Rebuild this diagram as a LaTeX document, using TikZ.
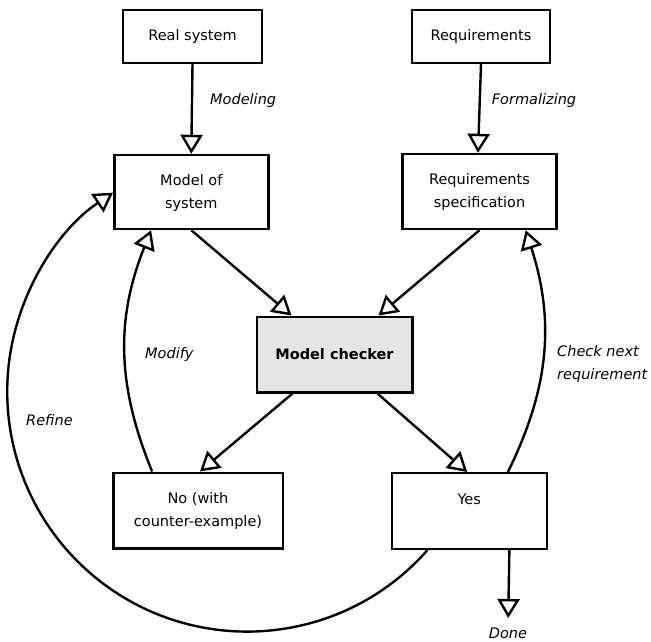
\documentclass[tikz,border=0pt]{standalone}
\usepackage{fontspec}
\setmainfont{DejaVu Sans}
\usetikzlibrary{arrows.meta,calc}
\newcommand\twoc[2]{\begin{tabular}{@{}c@{}}#1\\#2\end{tabular}}
\newcommand\twol[2]{\begin{tabular}{@{}l@{}}#1\\#2\end{tabular}}
\begin{document}
\begin{tikzpicture}[x=1pt,y=1pt,
  box/.style={draw, line width=2.4pt, fill=white, inner sep=0pt, font=\fontsize{14.5}{23.3}\selectfont},
  lbl/.style={font=\fontsize{14.5}{23.3}\selectfont\itshape, inner sep=0pt},
  arr/.style={line width=2.4pt, -{Triangle[open, length=19pt, width=22pt, fill=white]}}
]
\useasboundingbox (0,0) rectangle (651,-641);
\node[box, minimum width=139pt, minimum height=53pt] (real) at (192.5,-36.5) {Real system};
\node[box, minimum width=138pt, minimum height=53pt] (req) at (481,-36.5) {Requirements};
\node[box, minimum width=154pt, minimum height=74pt] (model) at (191.3,-192) {\twoc{Model of}{system}};
\node[box, minimum width=154pt, minimum height=75pt] (spec) at (479.5,-191.5) {\twoc{Requirements}{specification}};
\node[box, fill=gray!20, minimum width=155.6pt, minimum height=75.6pt, font=\fontsize{14.5}{23.3}\selectfont\bfseries] (mc) at (334.5,-354.5) {Model checker};
\node[box, minimum width=169.4pt, minimum height=75.6pt] (no) at (198,-510.5) {\twoc{No (with}{counter-example)}};
\node[box, minimum width=155pt, minimum height=75.6pt] (yes) at (469.2,-511) {\twoc{Yes}{\mbox{}}};
\coordinate (done) at (508.2,-618);

\draw[arr] (real.south) -- (model.north);
\draw[arr] (req.south) -- ([xshift=-1.5pt]spec.north);
\draw[arr] (model.south) -- ([xshift=36pt]mc.north west);
\draw[arr] (spec.south) -- ([xshift=-35pt]mc.north east);
\draw[arr] ([xshift=37pt]mc.south west) -- ([xshift=2pt]no.north);
\draw[arr] ([xshift=-36pt]mc.south east) -- ([xshift=-2pt]yes.north);
\draw[arr] ([xshift=40pt]no.north west) to[bend left=22] ([xshift=38pt]model.south west);
\draw[arr] ([xshift=-40pt]yes.north east) to[bend right=22] ([xshift=-32pt]spec.south east);
\draw[arr] ([xshift=-38.5pt]yes.south east) -- (done);
\draw[arr] ([xshift=37pt]yes.south west) arc[start angle=-41.3, end angle=-236, radius=240pt];

\node[lbl, anchor=west] (l1) at (210,-100) {Modeling};
\node[lbl, anchor=west] (l2) at (491.7,-100) {Formalizing};
\node[lbl, anchor=west] (l3) at (145,-354) {Modify};
\node[lbl, anchor=west] (l4) at (557,-363) {\twol{Check next}{requirement}};
\node[lbl, anchor=west] (l5) at (26,-420) {Refine};
\node[lbl] (l6) at (508,-633) {Done};
\end{tikzpicture}
\end{document}
